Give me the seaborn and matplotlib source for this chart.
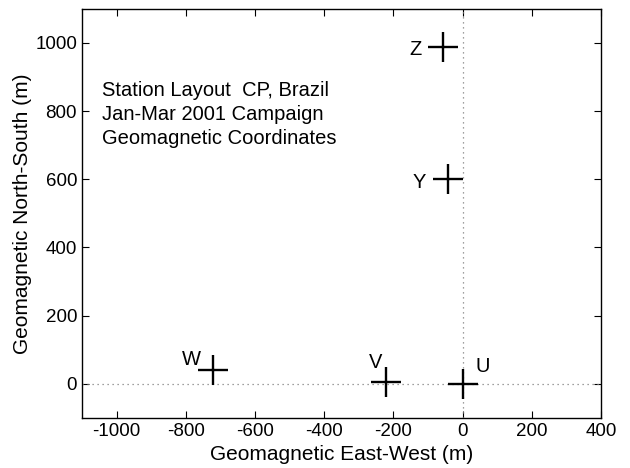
import matplotlib
matplotlib.use("Agg")
import matplotlib.pyplot as plt
import seaborn as sns
import pandas as pd

stations = ["Z", "Y", "W", "V", "U"]
east_west = [-58, -43, -720, -220, 0]
north_south = [988, 601, 41, 6, 0]
label_dx = [-78, -81, -63, -31, 58]
label_dy = [-6, -9, 29, 58, 50]
title_lines = ["Station Layout  CP, Brazil", "Jan-Mar 2001 Campaign", "Geomagnetic Coordinates"]
xticks = [-1000, -800, -600, -400, -200, 0, 200, 400]
yticks = [0, 200, 400, 600, 800, 1000]

sns.set_style("white")
plt.rcParams['font.family'] = ['Liberation Sans', 'DejaVu Sans']
plt.rcParams['axes.unicode_minus'] = False

df = pd.DataFrame({"ew": east_west, "ns": north_south, "st": stations})

fig, ax = plt.subplots(figsize=(6.3, 4.68), dpi=100)
fig.subplots_adjust(left=0.130, right=0.954, bottom=0.107, top=0.981)

ax.axhline(0, color="gray", linestyle=(0, (1, 3)), linewidth=0.9, zorder=1)
ax.axvline(0, color="gray", linestyle=(0, (1, 3)), linewidth=0.9, zorder=1)

sns.scatterplot(data=df, x="ew", y="ns", marker="+", s=440, color="black",
                linewidth=1.7, ax=ax, zorder=3, legend=False)

for s, x, y, dx, dy in zip(stations, east_west, north_south, label_dx, label_dy):
    ax.text(x + dx, y + dy, s, ha="center", va="center", fontsize=14.5, color="black")

for i, line in enumerate(title_lines):
    ax.text(-1043, 862 - i * 71, line, ha="left", va="center", fontsize=14.5, color="black")

ax.set_xlim(-1100, 400)
ax.set_ylim(-100, 1100)
ax.set_xticks(xticks)
ax.set_yticks(yticks)
ax.set_xlabel("Geomagnetic East-West (m)", fontsize=15, color="black", labelpad=4)
ax.set_ylabel("Geomagnetic North-South (m)", fontsize=15, color="black", labelpad=2)
ax.tick_params(direction="in", length=5, width=0.8, labelsize=13.5,
               top=True, right=True, bottom=True, left=True, color="black",
               labelcolor="black")
for sp in ax.spines.values():
    sp.set_color("black")
    sp.set_linewidth(1.0)

fig.savefig("out.png", dpi=100)
